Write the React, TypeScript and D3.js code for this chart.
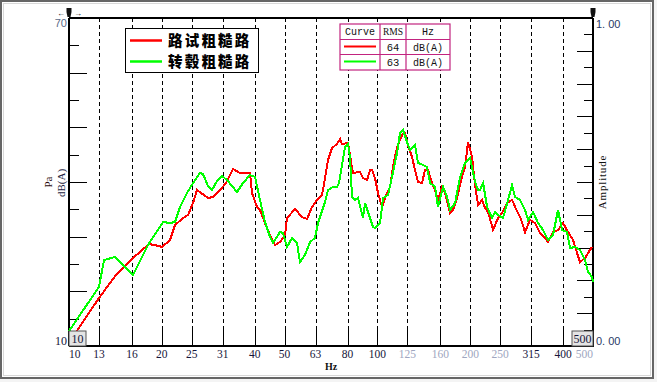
import React from "react";
import * as d3 from "d3";

const freqTicks = [10, 12.5, 16, 20, 25, 31.5, 40, 50, 63, 80, 100, 125, 160, 200, 250, 315, 400, 500];
const freqLabels = ["10", "13", "16", "20", "25", "31", "40", "50", "63", "80", "100", "125", "160", "200", "250", "315", "400", "500"];
const fadedLabels = ["125", "160", "200", "250", "500"];
const dbTicks = [15, 20, 25, 30, 35, 40, 45, 50, 55, 60, 65];
const ampTicks = [0.05, 0.1, 0.15, 0.2, 0.25, 0.3, 0.35, 0.4, 0.45, 0.5, 0.55, 0.6, 0.65, 0.7, 0.75, 0.8, 0.85, 0.9, 0.95];

const seriesNames = ["路试粗糙路", "转毂粗糙路"];
const seriesColors = ["#ff0000", "#00ff00"];
const rmsValues = ["64", "63"];
const rmsUnits = ["dB(A)", "dB(A)"];

const redFreq = [10.6, 12.51, 14.2, 16.13, 18.17, 19.58, 20.03, 21.26, 22.07, 23.43, 24.31, 25.24, 26.0, 28.23, 29.31, 30.88, 32.29, 34.02, 35.85, 38.63, 39.21, 40.7, 41.62, 43.19, 44.84, 46.55, 48.32, 50.15, 50.91, 54.05, 56.95, 59.12, 61.37, 63.7, 66.13, 67.63, 69.16, 71.26, 73.96, 75.64, 76.78, 80.3, 82.73, 83.35, 87.82, 89.8, 92.53, 94.63, 96.05, 98.22, 100.45, 101.95, 103.49, 105.82, 109.87, 112.3, 115.8, 120.2, 122.9, 125.7, 129.5, 132.4, 135.4, 139.5, 142.7, 145.9, 150.3, 153.8, 157.2, 162.0, 165.7, 172.0, 175.9, 181.3, 186.7, 192.3, 196.7, 202.7, 207.3, 212.0, 218.4, 223.4, 228.5, 237.1, 246.1, 253.5, 263.2, 273.3, 279.5, 290.1, 301.1, 312.5, 324.3, 336.7, 349.5, 357.4, 371.0, 385.1, 399.8, 415.0, 430.8, 443.9, 453.9, 471.2, 481.9, 496.4];
const redDb = [12.7, 18.78, 22.99, 26.1, 28.66, 28.29, 28.11, 29.39, 32.13, 33.41, 33.96, 36.16, 38.54, 37.07, 37.26, 38.54, 39.82, 42.38, 41.65, 41.65, 37.99, 35.43, 34.88, 32.5, 30.3, 28.48, 29.02, 30.3, 33.41, 35.06, 33.6, 33.23, 35.43, 36.71, 37.62, 40.73, 44.02, 46.22, 46.95, 47.87, 46.95, 47.13, 42.56, 41.65, 41.83, 40.73, 40.37, 42.2, 42.2, 40.73, 37.99, 36.71, 35.43, 37.07, 39.09, 42.74, 46.4, 48.6, 48.96, 46.77, 44.57, 42.2, 40.0, 39.82, 42.2, 42.2, 39.82, 38.54, 36.71, 39.09, 37.99, 34.33, 34.88, 37.07, 40.37, 42.74, 47.32, 44.57, 39.45, 35.79, 36.71, 35.24, 34.51, 31.22, 33.41, 34.33, 36.16, 36.71, 35.43, 33.6, 30.85, 33.05, 32.5, 30.67, 29.76, 29.02, 30.85, 31.22, 32.5, 30.85, 29.39, 27.01, 25.37, 26.1, 27.01, 28.11];

const greenFreq = [10.0, 12.51, 12.99, 14.1, 16.13, 18.04, 20.18, 21.26, 22.07, 22.91, 24.13, 25.24, 26.59, 27.19, 28.23, 29.09, 30.19, 31.34, 32.53, 35.05, 36.66, 38.63, 40.1, 41.62, 43.19, 44.84, 45.86, 48.32, 49.41, 50.91, 52.85, 54.86, 56.1, 58.24, 60.46, 62.75, 64.18, 67.63, 69.16, 71.79, 73.96, 75.08, 76.78, 78.51, 80.3, 81.51, 82.73, 84.61, 86.51, 89.8, 91.15, 93.23, 96.76, 98.22, 101.95, 104.28, 108.24, 111.5, 115.8, 118.4, 121.1, 124.7, 127.6, 132.4, 135.4, 140.6, 144.8, 148.1, 153.8, 157.2, 163.3, 168.2, 172.0, 178.6, 185.3, 192.3, 199.7, 207.3, 212.0, 215.2, 220.1, 226.8, 235.4, 240.7, 246.1, 255.4, 265.2, 273.3, 279.5, 290.1, 301.1, 307.9, 319.6, 331.7, 344.4, 357.4, 371.0, 385.1, 396.8, 412.0, 421.3, 437.3, 453.9, 471.2, 481.9, 496.4, 500];
const greenDb = [12.75, 20.8, 25.73, 26.28, 22.99, 28.48, 32.68, 32.5, 32.68, 35.43, 37.99, 39.82, 41.65, 41.46, 39.27, 38.54, 40.18, 41.1, 40.37, 38.17, 39.82, 41.28, 40.91, 36.71, 32.68, 29.94, 28.84, 30.85, 30.67, 28.11, 29.76, 28.84, 25.37, 26.65, 29.02, 29.76, 32.5, 36.34, 38.54, 39.09, 39.09, 39.82, 43.11, 46.4, 46.95, 44.57, 37.26, 36.71, 37.07, 33.41, 36.16, 34.51, 31.77, 31.59, 32.5, 37.07, 37.62, 40.91, 45.3, 48.96, 49.51, 47.32, 45.85, 46.77, 43.48, 43.11, 42.74, 39.82, 39.09, 35.43, 39.09, 37.26, 34.88, 36.16, 40.91, 43.48, 44.39, 40.0, 38.54, 38.54, 39.82, 35.43, 33.41, 34.51, 33.96, 33.41, 36.71, 39.45, 37.26, 36.71, 34.88, 33.05, 34.51, 32.5, 31.22, 29.39, 30.3, 34.88, 31.22, 30.85, 27.93, 28.11, 27.56, 25.73, 23.54, 22.62, 21.7];

const W = 657;
const H = 382;
const L = 69;
const R = 593;
const T = 18;
const B = 346;

export default function App() {
  const x = d3.scaleLog().domain([10, 500]).range([L, R]);
  const yL = d3.scaleLinear().domain([10, 70]).range([B, T]);
  const yR = d3.scaleLinear().domain([0, 1]).range([B, T]);
  const line = d3
    .line<[number, number]>()
    .x((d) => x(d[0]))
    .y((d) => yL(d[1]));
  const redPts: [number, number][] = redFreq.map((f, i) => [f, redDb[i]]);
  const greenPts: [number, number][] = greenFreq.map((f, i) => [f, greenDb[i]]);
  const serif = "'Liberation Serif', 'DejaVu Serif', serif";
  const sans = "'Liberation Sans', Arial, sans-serif";
  const mono = "'Liberation Mono', 'DejaVu Sans Mono', monospace";
  const textCol = "#16163a";
  const tableCol = "#c2237f";
  const colX = [340, 380, 406, 450];
  const rowY = [24, 39.5, 54.5, 70];

  return (
    <svg width={W} height={H} style={{ position: "absolute", left: 0, top: 0, background: "#fff" }}>
      <rect x={0} y={0} width={W} height={H} fill="#f4f4f4" />
      <rect x={1} y={1} width={652} height={377} fill="#fff" stroke="#666" strokeWidth={2} />
      <rect x={3.5} y={3.5} width={647} height={372} fill="none" stroke="#d8d8d8" strokeWidth={1} />

      {/* vertical grid */}
      {freqTicks.slice(1, -1).map((f) => (
        <g key={"g" + f} shapeRendering="crispEdges">
          <line x1={Math.round(x(f))} x2={Math.round(x(f))} y1={T} y2={B - 20} stroke="#000" strokeWidth={1} strokeDasharray="4,3" />
          <line x1={Math.round(x(f))} x2={Math.round(x(f))} y1={B - 20} y2={B} stroke="#000" strokeWidth={1} />
        </g>
      ))}

      {/* left ticks */}
      {dbTicks.map((v) => (
        <line key={"l" + v} x1={L} x2={L + (v % 10 === 0 ? 18 : 10)} y1={Math.round(yL(v))} y2={Math.round(yL(v))} stroke="#000" strokeWidth={1} shapeRendering="crispEdges" />
      ))}
      {/* right ticks */}
      {ampTicks.map((v, i) => (
        <line key={"r" + v} x1={R - (i % 2 === 1 ? 16 : 9)} x2={R} y1={Math.round(yR(v))} y2={Math.round(yR(v))} stroke="#000" strokeWidth={1} shapeRendering="crispEdges" />
      ))}

      {/* axes frame */}
      <g shapeRendering="crispEdges">
        <line x1={L} x2={R} y1={T} y2={T} stroke="#000" strokeWidth={1.5} />
        <line x1={L} x2={R + 1} y1={B} y2={B} stroke="#000" strokeWidth={2} />
        <line x1={L} x2={L} y1={T} y2={B} stroke="#000" strokeWidth={2} />
        <line x1={R} x2={R} y1={T} y2={B} stroke="#000" strokeWidth={2} />
      </g>

      {/* curves */}
      <path d={line(redPts) || ""} fill="none" stroke={seriesColors[0]} strokeWidth={2} strokeLinejoin="miter" shapeRendering="crispEdges" />
      <path d={line(greenPts) || ""} fill="none" stroke={seriesColors[1]} strokeWidth={2} strokeLinejoin="miter" shapeRendering="crispEdges" />

      {/* cursor boxes */}
      <rect x={L} y={B - 15} width={17} height={15} fill="#e4e4e4" stroke="#555" strokeWidth={1} />
      <text x={L + 8.5} y={B - 3} textAnchor="middle" fontFamily={serif} fontSize={12} fill={textCol}>{freqLabels[0]}</text>
      <rect x={R - 21} y={B - 15} width={21} height={15} fill="#e4e4e4" stroke="#555" strokeWidth={1} />
      <text x={R - 10.5} y={B - 3} textAnchor="middle" fontFamily={serif} fontSize={12} fill={textCol}>{freqLabels[freqLabels.length - 1]}</text>

      {/* x tick labels */}
      {freqTicks.map((f, i) => {
        const lab = freqLabels[i];
        const anchor = i === 0 ? "start" : i === freqTicks.length - 1 ? "end" : "middle";
        const faded = fadedLabels.includes(lab);
        return (
          <text key={"xl" + f} x={x(f)} y={358} textAnchor={anchor} fontFamily={serif} fontSize={11.5} fill={faded ? "#9ea6c0" : textCol}>
            {lab}
          </text>
        );
      })}
      <text x={325} y={370} fontFamily={serif} fontSize={10} fontWeight="bold" fill="#111">Hz</text>

      {/* y labels */}
      <text x={67} y={27} textAnchor="end" fontFamily={sans} fontSize={11} fill="#5a6a88">70</text>
      <text x={67} y={345} textAnchor="end" fontFamily={serif} fontSize={12} fill={textCol}>10</text>
      <text x={596} y={28} fontFamily={sans} fontSize={11} fill="#2a3a66">1. 00</text>
      <text x={596} y={345} fontFamily={sans} fontSize={11} fill="#2a3a66">0. 00</text>
      <text transform="translate(52,182) rotate(-90)" textAnchor="middle" fontFamily={serif} fontSize={11} fill="#2a0a0a">Pa</text>
      <text transform="translate(65,183) rotate(-90)" textAnchor="middle" fontFamily={serif} fontSize={11} fill="#1a1a40">dB(A)</text>
      <text transform="translate(606,182) rotate(-90)" textAnchor="middle" fontFamily={serif} fontSize={11} letterSpacing={0.8} fill="#111">Amplitude</text>

      {/* top cursor markers */}
      <path d="M66.5,8 L71.5,8 L71.5,12 L70.5,17 L67.5,17 L66.5,12 Z" fill="#111" />
      <text x={61} y={16} textAnchor="middle" fontFamily={sans} fontSize={8} fill="#111">←</text>
      <text x={78} y={16} textAnchor="middle" fontFamily={sans} fontSize={8} fill="#111">→</text>
      <path d="M590.5,8 L595.5,8 L595.5,12 L594.5,17 L591.5,17 L590.5,12 Z" fill="#111" />

      {/* legend box */}
      <rect x={125.5} y={28.5} width={133} height={44} fill="#fff" stroke="#000" strokeWidth={1} />
      {seriesNames.map((n, i) => (
        <g key={"leg" + n}>
          <line x1={130} x2={162} y1={40.5 + i * 21} y2={40.5 + i * 21} stroke={seriesColors[i]} strokeWidth={2.5} />
          <text x={168} y={46 + i * 21.3} fontFamily="'Noto Sans CJK SC', sans-serif" fontWeight={900} fontSize={14.5} letterSpacing={2.2} fill="#000">{n}</text>
        </g>
      ))}

      {/* RMS table */}
      <rect x={colX[0]} y={rowY[0]} width={colX[3] - colX[0]} height={rowY[3] - rowY[0]} fill="#fff" stroke={tableCol} strokeWidth={1.2} />
      {colX.slice(1, 3).map((cx) => (
        <line key={"c" + cx} x1={cx} x2={cx} y1={rowY[0]} y2={rowY[3]} stroke={tableCol} strokeWidth={1.2} />
      ))}
      {rowY.slice(1, 3).map((ry) => (
        <line key={"rw" + ry} x1={colX[0]} x2={colX[3]} y1={ry} y2={ry} stroke={tableCol} strokeWidth={1.2} />
      ))}
      <text x={(colX[0] + colX[1]) / 2} y={35} textAnchor="middle" fontFamily={mono} fontSize={10} fill="#111">Curve</text>
      <text x={(colX[1] + colX[2]) / 2} y={35} textAnchor="middle" fontFamily={serif} fontSize={9.5} fill="#111">RMS</text>
      <text x={(colX[2] + colX[3]) / 2} y={35} textAnchor="middle" fontFamily={mono} fontSize={10} fill="#111">Hz</text>
      {rmsValues.map((v, i) => (
        <g key={"rms" + i}>
          <line x1={344} x2={376} y1={46.5 + i * 15} y2={46.5 + i * 15} stroke={seriesColors[i]} strokeWidth={2} />
          <text x={(colX[1] + colX[2]) / 2} y={51 + i * 15} textAnchor="middle" fontFamily={mono} fontSize={10.5} fill="#111">{v}</text>
          <text x={(colX[2] + colX[3]) / 2} y={51 + i * 15} textAnchor="middle" fontFamily={mono} fontSize={10} fill="#111">{rmsUnits[i]}</text>
        </g>
      ))}
    </svg>
  );
}
